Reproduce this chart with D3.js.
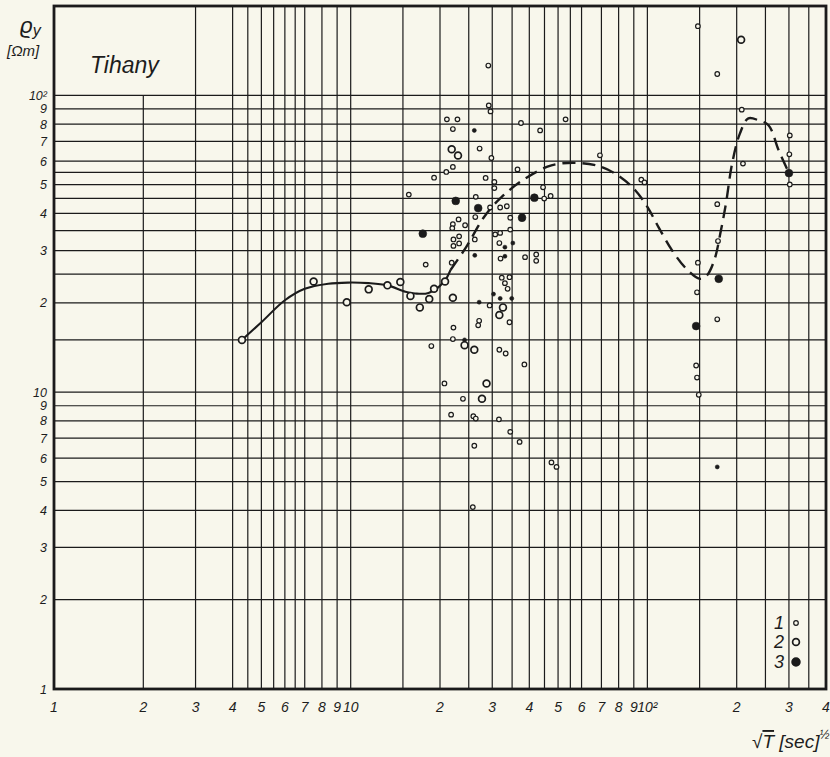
<!DOCTYPE html>
<html>
<head>
<meta charset="utf-8">
<script src="https://cdn.jsdelivr.net/npm/d3@7/dist/d3.min.js"></script>
<style>
  body { margin: 0; background: #f8f7ec; }
  svg { display: block; }
  text { font-family: "Liberation Sans", "DejaVu Sans", sans-serif; font-style: italic; fill: #1d1d1d; }
</style>
</head>
<body>
<div id="chart"></div>
<script>
// grid lines (log paper)
var xGrid = [2, 3, 4, 4.5, 5, 5.5, 6, 6.5, 7, 8, 9, 10, 15, 20, 25, 30, 35, 40, 45, 50, 55, 60, 70, 80, 90, 100, 150, 200, 250, 300, 350];
var yGrid = [2, 3, 4, 5, 6, 7, 8, 9, 10, 15, 20, 25, 30, 35, 40, 45, 50, 55, 60, 70, 80, 90, 100];

// tick labels
var xTickValues = [1, 2, 3, 4, 5, 6, 7, 8, 9, 10, 20, 30, 40, 50, 60, 70, 80, 90, 100, 200, 300, 400];
var xTickLabels = ['1', '2', '3', '4', '5', '6', '7', '8', '9', '10', '2', '3', '4', '5', '6', '7', '8', '9', '10²', '2', '3', '4'];
var yTickValues = [1, 2, 3, 4, 5, 6, 7, 8, 9, 10, 20, 30, 40, 50, 60, 70, 80, 90, 100];
var yTickLabels = ['1', '2', '3', '4', '5', '6', '7', '8', '9', '10', '2', '3', '4', '5', '6', '7', '8', '9', '10²'];

// fitted curve: solid part, then dashed part
var curveSolid = [[4.3, 15.0], [5.0, 17.2], [6.0, 20.4], [7.0, 22.3], [8.4, 23.2], [9.8, 23.4], [11.5, 23.3],
  [13.3, 22.9], [15.3, 21.8], [16.5, 21.5], [18.3, 21.6], [20.6, 23.5], [21.7, 25.8]];
var curveDashed = [[21.7, 25.8], [24.5, 30.8], [28.4, 39.4], [32.3, 45.5], [38.7, 52.4], [47.5, 58.1], [58.5, 59.2],
  [70, 57.4], [81, 53.1], [91, 47.9], [100, 42.1], [109, 36.0], [121, 30.1], [135, 26.1], [150, 24.1],
  [158, 24.6], [168, 27.8], [177, 35.1], [184, 43.2], [193, 58.9], [205, 74.3], [219, 83.7], [237, 82.4],
  [256, 79.3], [277, 65.3], [300, 54.7]];

// measurements: 1 small open, 2 large open, 3 filled, 4 small filled
var pointsType1 = [[29.2, 92.5], [29.6, 88.3], [21.1, 83.0], [22.9, 83.0], [22.1, 77.0], [37.5, 80.7], [53.0, 83.0],
  [43.5, 76.2], [27.2, 66.2], [29.8, 61.5], [22.1, 57.4], [21.0, 55.2], [19.1, 52.8], [28.5, 52.7], [30.5, 51.1],
  [30.5, 48.7], [36.5, 56.3], [15.7, 46.3], [26.4, 45.5], [29.5, 41.9], [31.9, 41.9], [33.6, 42.3], [44.9, 44.9],
  [47.2, 45.8], [44.5, 49.0], [26.3, 38.9], [23.1, 38.2], [34.5, 38.7], [22.1, 36.8], [22.0, 35.7], [24.3, 36.5],
  [34.5, 35.3], [30.7, 34.0], [31.9, 34.4], [22.2, 32.7], [23.2, 33.5], [22.2, 31.1], [23.2, 31.7], [26.2, 32.7],
  [31.7, 31.8], [32.0, 28.2], [38.7, 28.5], [42.2, 29.1], [42.2, 27.7], [17.9, 26.9], [21.9, 27.3], [32.3, 24.3],
  [34.3, 24.4], [33.1, 23.3], [33.8, 22.3], [29.4, 19.6], [34.3, 17.2], [27.1, 17.4], [26.9, 16.8], [22.2, 16.5],
  [22.1, 15.1], [18.7, 14.3], [31.7, 13.9], [33.3, 13.5], [38.5, 12.4], [20.7, 10.7], [23.9, 9.5], [21.8, 8.4],
  [25.9, 8.3], [26.4, 8.15], [31.6, 8.1], [34.5, 7.35], [37.1, 6.8], [26.1, 6.6], [47.5, 5.8], [49.4, 5.6],
  [25.8, 4.1], [29.1, 126], [148, 171], [172, 118], [208, 89.5], [210, 58.9], [302, 73.3], [301, 63.3],
  [302, 50.1], [69.2, 62.8], [95.4, 52.0], [97.8, 50.9], [172, 43.0], [173, 32.3], [148, 27.3], [147, 21.7],
  [172, 17.6], [146, 12.3], [147, 11.2], [149, 9.8]];
var pointsType2 = [[4.3, 15.0], [7.5, 23.6], [9.7, 20.1], [11.5, 22.2], [13.3, 22.9], [14.7, 23.5], [15.9, 21.1],
  [17.1, 19.3], [18.4, 20.6], [19.1, 22.3], [20.8, 23.6], [22.1, 20.8], [21.9, 65.8], [23.0, 62.7], [32.6, 19.3],
  [31.7, 18.2], [24.2, 14.4], [26.1, 13.9], [28.7, 10.7], [27.7, 9.5], [207, 154]];
var pointsType3 = [[22.6, 44.1], [26.9, 41.7], [41.6, 45.2], [37.8, 38.7], [17.5, 34.2], [300, 54.7], [174, 24.1], [146, 16.7]];
var pointsType4 = [[26.1, 76.2], [33.1, 30.8], [35.2, 31.8], [26.2, 28.9], [33.1, 28.7], [30.3, 21.4], [34.9, 20.7],
  [31.9, 20.7], [27.1, 20.1], [24.2, 15.0], [172, 5.6]];

var legendItems = ['1', '2', '3'];

var Chart = function() {
  "use strict";

  var width = 830, height = 757;
  var pLeft = 54, pRight = 826, pTop = 6, pBottom = 689;
  var ink = '#1b1b1b', paper = '#f8f7ec';

  var x = d3.scaleLog().domain([1, 400]).range([pLeft, pRight]);
  var y = d3.scaleLog().domain([1, 200]).range([pBottom, pTop]);

  var svg = d3.select('#chart').append('svg')
    .attr('width', width)
    .attr('height', height);

  svg.append('rect').attr('width', width).attr('height', height).attr('fill', paper);

  // vertical grid; the line at 2 stops at 10^2 to leave room for the title
  svg.append('g').selectAll('line').data(xGrid).enter().append('line')
    .attr('x1', function(d) { return x(d); })
    .attr('x2', function(d) { return x(d); })
    .attr('y1', function(d) { return d === 2 ? y(100) : pTop; })
    .attr('y2', pBottom)
    .attr('stroke', ink).attr('stroke-width', 1.2);

  // horizontal grid
  svg.append('g').selectAll('line').data(yGrid).enter().append('line')
    .attr('x1', pLeft).attr('x2', pRight)
    .attr('y1', function(d) { return y(d); })
    .attr('y2', function(d) { return y(d); })
    .attr('stroke', ink).attr('stroke-width', 1.2);

  // frame
  svg.append('rect')
    .attr('x', pLeft).attr('y', pTop)
    .attr('width', pRight - pLeft).attr('height', pBottom - pTop)
    .attr('fill', 'none').attr('stroke', ink).attr('stroke-width', 2.8);

  // tick labels
  svg.append('g').selectAll('text').data(xTickValues).enter().append('text')
    .attr('x', function(d) { return x(d); })
    .attr('y', pBottom + 23)
    .attr('text-anchor', 'middle')
    .attr('font-size', 14)
    .text(function(d, i) { return xTickLabels[i]; });

  svg.append('g').selectAll('text').data(yTickValues).enter().append('text')
    .attr('x', pLeft - 7)
    .attr('y', function(d) { return y(d) + 4.5; })
    .attr('text-anchor', 'end')
    .attr('font-size', 12.5)
    .text(function(d, i) { return yTickLabels[i]; });

  // curve
  var line = d3.line()
    .x(function(d) { return x(d[0]); })
    .y(function(d) { return y(d[1]); })
    .curve(d3.curveCatmullRom.alpha(0.5));

  svg.append('path').datum(curveSolid)
    .attr('d', line).attr('fill', 'none')
    .attr('stroke', ink).attr('stroke-width', 2.1);

  svg.append('path').datum(curveDashed)
    .attr('d', line).attr('fill', 'none')
    .attr('stroke', ink).attr('stroke-width', 2.4)
    .attr('stroke-dasharray', '13,7');

  // points
  var drawPoints = function(data, r, filled, sw) {
    svg.append('g').selectAll('circle').data(data).enter().append('circle')
      .attr('cx', function(d) { return x(d[0]); })
      .attr('cy', function(d) { return y(d[1]); })
      .attr('r', r)
      .attr('fill', filled ? ink : paper)
      .attr('stroke', ink)
      .attr('stroke-width', sw);
  };
  drawPoints(pointsType1, 2.3, false, 1.2);
  drawPoints(pointsType2, 3.4, false, 1.7);
  drawPoints(pointsType4, 2, true, 0.6);
  drawPoints(pointsType3, 3.9, true, 0.6);

  // legend
  var legendY = [623, 642, 662];
  var legendR = [2.3, 3.4, 3.9];
  var lg = svg.append('g');
  lg.selectAll('text').data(legendItems).enter().append('text')
    .attr('x', 784)
    .attr('y', function(d, i) { return legendY[i] + 6; })
    .attr('text-anchor', 'end')
    .attr('font-size', 18)
    .text(function(d) { return d; });
  lg.selectAll('circle').data(legendItems).enter().append('circle')
    .attr('cx', 796)
    .attr('cy', function(d, i) { return legendY[i]; })
    .attr('r', function(d, i) { return legendR[i]; })
    .attr('fill', function(d, i) { return i === 2 ? ink : paper; })
    .attr('stroke', ink)
    .attr('stroke-width', function(d, i) { return i === 0 ? 1.2 : 1.7; });

  // titles
  svg.append('text').attr('x', 90).attr('y', 73).attr('font-size', 23).text('Tihany');

  var yt = svg.append('text').attr('x', 20).attr('y', 33).attr('font-size', 22);
  yt.append('tspan').text('ϱ');
  yt.append('tspan').attr('font-size', 16).attr('dy', 3).text('y');
  svg.append('text').attr('x', 7).attr('y', 56).attr('font-size', 15).text('[Ωm]');

  var xt = svg.append('text').attr('x', 752).attr('y', 748).attr('font-size', 19);
  xt.append('tspan').text('√');
  xt.append('tspan').attr('text-decoration', 'overline').text('T');
  xt.append('tspan').text(' [sec]');
  xt.append('tspan').attr('font-size', 12).attr('dy', -9).text('½');
};

Chart();
</script>
</body>
</html>
